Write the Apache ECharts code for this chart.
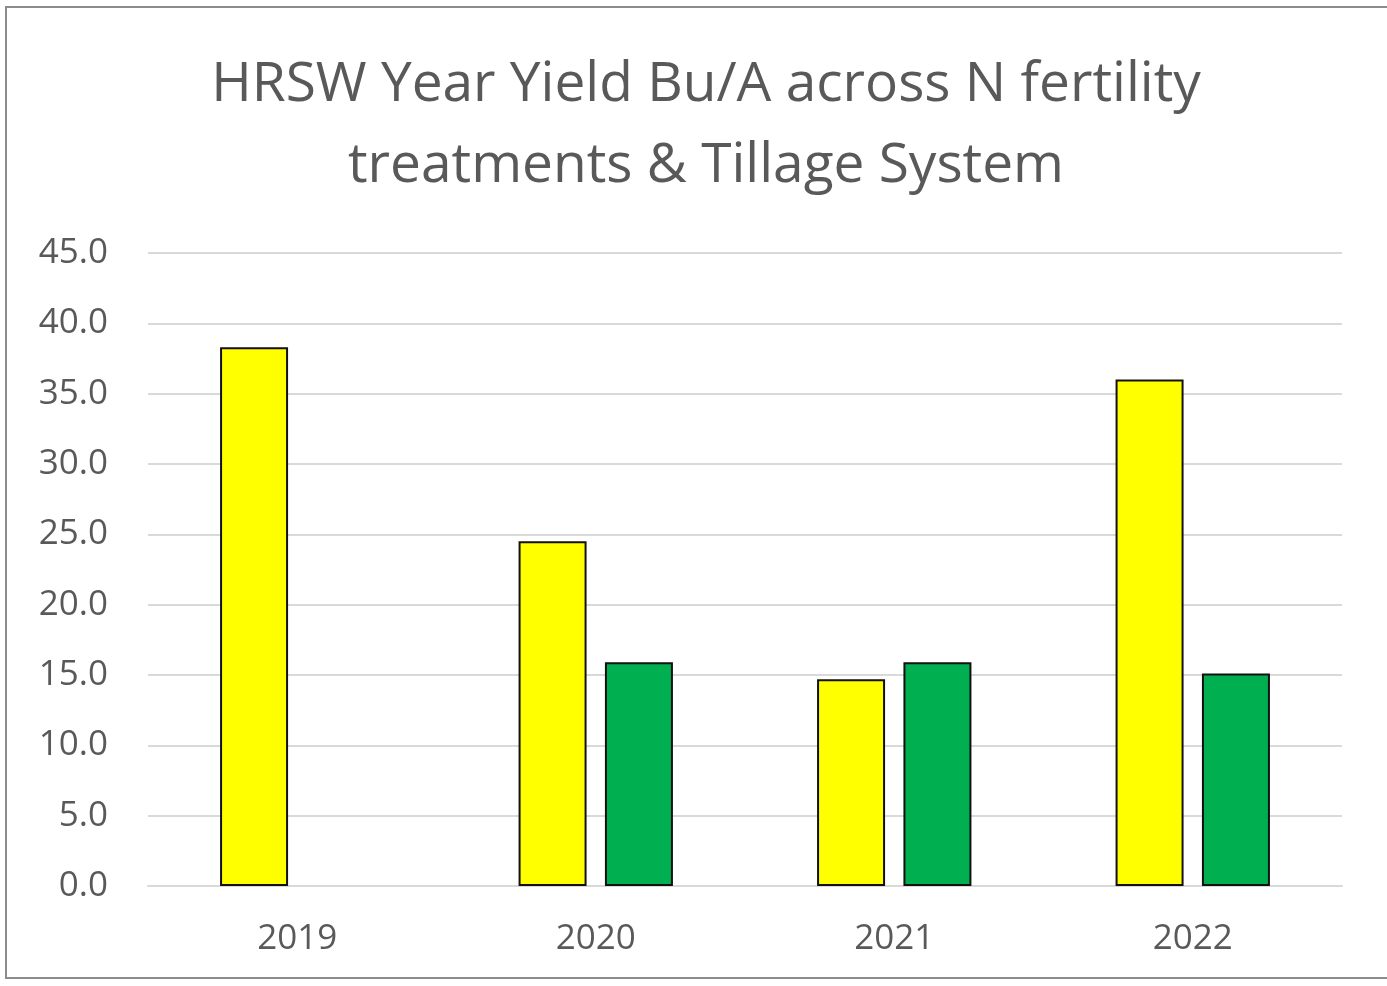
<!DOCTYPE html>
<html>
<head>
<meta charset="utf-8">
<title>HRSW Year Yield</title>
<script src="https://cdn.jsdelivr.net/npm/echarts@6/dist/echarts.min.js"></script>
<style>
  html, body { margin: 0; padding: 0; background: #ffffff; }
  #chart { width: 1387px; height: 986px; }
</style>
</head>
<body>
<div id="chart"></div>
<script>
// Harvest years on the category axis
const years = ['2019', '2020', '2021', '2022'];
// Yield (Bu/A) per year for the two tillage systems; no second-system value in 2019
const yieldYellow = [38.3, 24.5, 14.7, 36.0];
const yieldGreen = [null, 15.9, 15.9, 15.1];
// Value-axis range and step
const yMin = 0, yMax = 45, yStep = 5;

const chart = echarts.init(document.getElementById('chart'), null, { renderer: 'canvas' });

const FONT = 'Open Sans';

chart.setOption({
  animation: false,
  backgroundColor: '#ffffff',
  title: {
    text: 'HRSW Year Yield Bu/A across N fertility\ntreatments & Tillage System',
    left: 701,
    top: 40,
    textAlign: 'center',
    textStyle: {
      fontFamily: FONT,
      fontSize: 55,
      fontWeight: 'normal',
      color: '#595959',
      lineHeight: 81
    }
  },
  graphic: [{
    type: 'rect',
    shape: { x: 6, y: 7, width: 1400, height: 971 },
    style: { fill: 'none', stroke: '#8c8c8c', lineWidth: 2 },
    silent: true
  }],
  grid: { left: 148, right: 45, top: 253, bottom: 100 },
  xAxis: {
    type: 'category',
    data: years,
    axisLine: { show: true, lineStyle: { color: '#d9d9d9', width: 2 } },
    axisTick: { show: false },
    axisLabel: {
      margin: 36,
      fontFamily: FONT,
      fontSize: 35,
      color: '#595959'
    }
  },
  yAxis: {
    type: 'value',
    min: yMin,
    max: yMax,
    interval: yStep,
    axisLine: { show: false },
    axisTick: { show: false },
    splitLine: { lineStyle: { color: '#d9d9d9', width: 2 } },
    axisLabel: {
      margin: 40,
      fontFamily: FONT,
      fontSize: 35,
      color: '#595959',
      formatter: v => v.toFixed(1)
    }
  },
  series: [
    {
      type: 'bar',
      data: yieldYellow,
      barWidth: 68,
      barGap: '27%',
      itemStyle: { color: '#ffff00', borderColor: '#111111', borderWidth: 2 }
    },
    {
      type: 'bar',
      data: yieldGreen,
      barWidth: 68,
      itemStyle: { color: '#00b050', borderColor: '#111111', borderWidth: 2 }
    }
  ]
});
</script>
</body>
</html>
